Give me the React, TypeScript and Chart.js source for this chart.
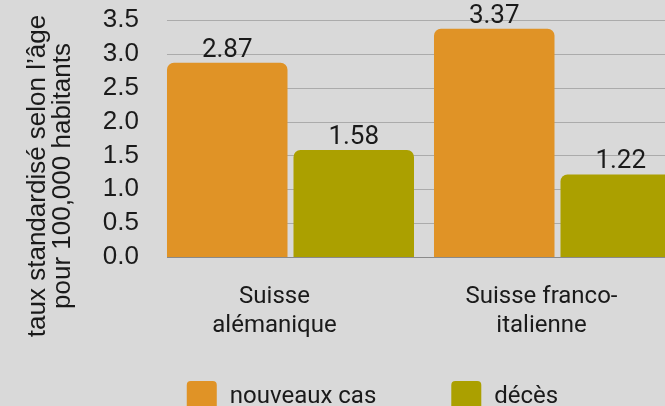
import React, { useEffect, useRef } from "react";
import { Chart, registerables } from "chart.js";

Chart.register(...registerables);

// ---- data ----
const categories: string[][] = [
  ["Suisse", "alémanique"],
  ["Suisse franco-", "italienne"],
];
const seriesNames: string[] = ["nouveaux cas", "décès"];
const newCases: number[] = [2.87, 3.37];
const deaths: number[] = [1.58, 1.22];
const yTickValues: number[] = [0, 0.5, 1, 1.5, 2, 2.5, 3, 3.5];
const yTitle: string[] = ["taux standardisé selon l’âge", "pour 100,000 habitants"];

// ---- styles ----
const COLORS = ["#E09326", "#ABA000"];
const BG = "#D9D9D9";
const TEXT = "#1a1a1a";
const LABEL_FONT = "Roboto";
const AXIS_FONT = "'Liberation Sans'";

// horizontal grid lines starting at the left edge of the first bar
const gridFromFirstBar = {
  id: "gridFromFirstBar",
  beforeDatasetsDraw(chart: any) {
    const { ctx, chartArea } = chart;
    const y = chart.scales.y;
    const first = chart.getDatasetMeta(0).data[0];
    if (!first) return;
    const left = first.x - first.width / 2;
    ctx.save();
    ctx.lineWidth = 1;
    y.ticks.forEach((t: any) => {
      const py = Math.round(y.getPixelForValue(t.value)) + 0.5;
      ctx.strokeStyle = t.value === 0 ? "#8a8a8a" : "#ababab";
      ctx.beginPath();
      ctx.moveTo(left, py);
      ctx.lineTo(chartArea.right, py);
      ctx.stroke();
    });
    ctx.restore();
  },
};

const valueLabels = {
  id: "valueLabels",
  afterDatasetsDraw(chart: any) {
    const { ctx } = chart;
    ctx.save();
    ctx.font = `26px ${LABEL_FONT}`;
    ctx.fillStyle = TEXT;
    ctx.textAlign = "center";
    ctx.textBaseline = "alphabetic";
    chart.data.datasets.forEach((ds: any, i: number) => {
      const meta = chart.getDatasetMeta(i);
      meta.data.forEach((bar: any, j: number) => {
        ctx.fillText(Number(ds.data[j]).toFixed(2), bar.x, bar.y - 6);
      });
    });
    ctx.restore();
  },
};

// y-axis title, centred a little below the plot's middle as in the reference
const yAxisTitle = {
  id: "yAxisTitle",
  afterDraw(chart: any) {
    const { ctx } = chart;
    ctx.save();
    ctx.font = `26px ${AXIS_FONT}`;
    ctx.fillStyle = TEXT;
    ctx.textAlign = "center";
    ctx.textBaseline = "alphabetic";
    ctx.translate(0, 176);
    ctx.rotate(-Math.PI / 2);
    const baselines = [45, 70];
    yTitle.forEach((line, i) => ctx.fillText(line, 0, baselines[i]));
    ctx.restore();
  },
};

const bottomLegend = {
  id: "bottomLegend",
  afterDraw(chart: any) {
    const { ctx } = chart;
    ctx.save();
    ctx.font = `24px ${LABEL_FONT}`;
    const box = 30;
    const gapText = 13;
    const gapItems = 75;
    const items = chart.data.datasets.map((ds: any) => ({
      label: ds.label as string,
      color: ds.backgroundColor as string,
      w: ctx.measureText(ds.label).width,
    }));
    const total =
      items.reduce((s: number, it: any) => s + box + gapText + it.w, 0) +
      gapItems * (items.length - 1);
    let x = chart.width / 2 - total / 2;
    const top = 381;
    for (const it of items) {
      ctx.fillStyle = it.color;
      ctx.beginPath();
      ctx.roundRect(x, top, box, box, 4);
      ctx.fill();
      ctx.fillStyle = TEXT;
      ctx.textAlign = "left";
      ctx.textBaseline = "alphabetic";
      ctx.fillText(it.label, x + box + gapText, 403);
      x += box + gapText + it.w + gapItems;
    }
    ctx.restore();
  },
};

export default function App() {
  const ref = useRef<HTMLCanvasElement | null>(null);

  useEffect(() => {
    if (!ref.current) return;
    const chart = new Chart(ref.current, {
      type: "bar",
      data: {
        labels: categories,
        datasets: [
          {
            label: seriesNames[0],
            data: newCases,
            backgroundColor: COLORS[0],
            borderRadius: 7,
            categoryPercentage: 0.9476,
            barPercentage: 0.9526,
          },
          {
            label: seriesNames[1],
            data: deaths,
            backgroundColor: COLORS[1],
            borderRadius: 7,
            categoryPercentage: 0.9476,
            barPercentage: 0.9526,
          },
        ],
      },
      options: {
        responsive: false,
        animation: false,
        events: [],
        layout: { padding: { top: 20, right: 54, bottom: 49, left: 0 } },
        plugins: {
          legend: { display: false },
          tooltip: { enabled: false },
        },
        scales: {
          x: {
            grid: { display: false },
            border: { display: false },
            ticks: {
              autoSkip: false,
              maxRotation: 0,
              minRotation: 0,
              labelOffset: -16,
              padding: 18,
              color: TEXT,
              font: { family: LABEL_FONT, size: 24, lineHeight: 1.2 },
            },
            afterFit: (s: any) => {
              s.height = 100;
            },
          },
          y: {
            min: 0,
            max: 3.5,
            afterBuildTicks: (s: any) => {
              s.ticks = yTickValues.map((v) => ({ value: v }));
            },
            grid: { display: false },
            border: { display: false },
            ticks: {
              autoSkip: false,
              padding: 10,
              color: TEXT,
              font: { family: AXIS_FONT, size: 26, lineHeight: 0.75 },
              callback: (v: any) => Number(v).toFixed(1),
            },
            afterFit: (s: any) => {
              s.width = 157;
            },
          },
        },
      },
      plugins: [gridFromFirstBar, valueLabels, yAxisTitle, bottomLegend],
    });
    return () => chart.destroy();
  }, []);

  return (
    <div
      style={{
        position: "fixed",
        left: 0,
        top: 0,
        width: 665,
        height: 406,
        overflow: "hidden",
        background: BG,
      }}
    >
      <canvas
        ref={ref}
        width={745}
        height={406}
        style={{ display: "block", width: 745, height: 406 }}
      />
    </div>
  );
}
